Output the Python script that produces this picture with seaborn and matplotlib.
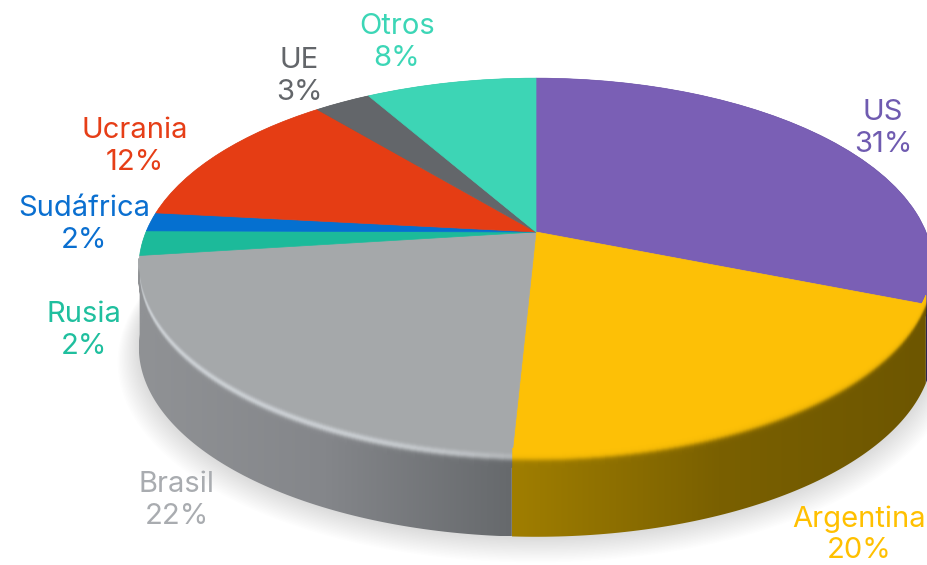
import numpy as np
import matplotlib
matplotlib.use('Agg')
import matplotlib.pyplot as plt
from matplotlib.collections import PolyCollection
from matplotlib.patches import Polygon
from matplotlib.transforms import Transform
import seaborn as sns

# datos
paises = ['US', 'Argentina', 'Brasil', 'Rusia', 'Sudáfrica', 'Ucrania', 'UE', 'Otros']
porcentajes = [31, 20, 22, 2, 2, 12, 3, 8]
valores = [31.0, 19.8, 22.2, 2.1, 1.6, 12.2, 2.77, 8.33]
colores = ['#7A5FB5', '#FDC006', '#A5A8AA', '#1CBA9A', '#0570D0', '#E53D14', '#63666A', '#3DD5B5']
colores_texto = ['#6F5BB0', '#FFC000', '#A9ACB0', '#1FBF9E', '#0A6FD0', '#E63E17', '#63666A', '#3CD6B6']
# color del lateral, de izquierda a derecha en pantalla
lateral = [['#4A3A78', '#2E2450'], ['#A07E00', '#7A6000', '#6D5600'],
           ['#909295', '#84868A', '#66696C'], ['#909295', '#909295'],
           ['#909295', '#909295'], ['#909295', '#909295'],
           ['#45474A', '#45474A'], ['#2A9580', '#2A9580']]
pos_etiquetas = [(883, 126), (859, 532), (177, 498), (84, 327),
                 (84, 221), (135, 143), (299, 73), (397, 39)]

# perspectiva del disco: circulo unidad -> pixeles
CX, CY = 536, 232
A, B, K = 390, 183, 0.1895
FONDO = 79


def proyecta(u, v):
    d = 1 + K * v
    return CX + A * u / d, CY - B * v / d


class Perspectiva(Transform):
    input_dims = 2
    output_dims = 2
    is_separable = False

    def transform_non_affine(self, xy):
        x, y = proyecta(xy[:, 0], xy[:, 1])
        return np.column_stack([x, y])


sns.set_theme(style='white')
plt.rcParams['font.family'] = ['Inter', 'DejaVu Sans']

fig, ax = plt.subplots(figsize=(9.27, 5.65), dpi=100)
fig.subplots_adjust(0, 0, 1, 1)

cuñas, _ = ax.pie(valores, colors=colores, startangle=90, counterclock=False,
                  wedgeprops={'linewidth': 0.5})

# sombra difusa
th = np.linspace(0, 2 * np.pi, 300)
for i in range(18):
    r = 1.0 + i * 0.003
    x, y = proyecta(r * np.cos(th), r * np.sin(th))
    ax.fill(x, y + FONDO + 1 + i * 0.6, color='#808080', alpha=0.014, lw=0, zorder=1)

# lateral y bisel
for num, (cuña, col_lat, color) in enumerate(zip(cuñas, lateral, colores)):
    ang = np.radians(np.linspace(cuña.theta1, cuña.theta2, 90))
    x, y = proyecta(np.cos(ang), np.sin(ang))
    n = len(ang) - 1
    pal = sns.blend_palette(col_lat, 256)
    xmin, xmax = x.min(), x.max()

    # lateral: degradado recortado con la forma de la pared
    pared = np.column_stack([np.r_[x, x[::-1]], np.r_[y, y[::-1] + FONDO]])
    img = ax.imshow(np.array(pal)[None, :, :], extent=(xmin, xmax, y.max() + FONDO, y.min()),
                    aspect='auto', zorder=2, interpolation='bilinear')
    img.set_clip_path(Polygon(pared, transform=ax.transData))

    cuña.set_transform(Perspectiva() + ax.transData)
    cuña.set_zorder(3)
    cuña.set_edgecolor(color)

    # bisel: de la cara al lateral, con brillo en la porcion gris
    base = np.array(matplotlib.colors.to_rgb(color))
    for d0 in np.arange(-9, 10):
        dm = d0 + 0.5
        mezcla = 1 / (1 + np.exp(-(dm - 2.5) / 1.4))
        brillo = np.exp(-((dm + 0.5) / 3.2) ** 2) * 0.65 if num == 2 else 0
        quads, fc = [], []
        for j in range(0, n, 2):
            k = min(j + 2, n)
            frente = np.clip((y[j] - 262) / 40, 0, 1)
            if frente <= 0:
                continue
            f = ((x[j] + x[k]) / 2 - xmin) / max(xmax - xmin, 1)
            lat = np.array(pal[int(f * 255)])
            c = base + (lat - base) * mezcla
            # el brillo se apaga hacia el centro del disco
            fuerza = brillo * frente * (1 - 0.6 * f ** 4)
            c = c + (np.array([0.88, 0.90, 0.92]) - c) * fuerza
            quads.append([(x[j], y[j] + d0), (x[k], y[k] + d0),
                          (x[k], y[k] + d0 + 1), (x[j], y[j] + d0 + 1)])
            fc.append(c)
        if quads:
            ax.add_collection(PolyCollection(quads, facecolors=fc, edgecolors=fc, lw=0.5, zorder=4))

ax.set_aspect('auto')
ax.set_xlim(0, 927)
ax.set_ylim(565, 0)
ax.axis('off')

# etiquetas: nombre y porcentaje en dos textos
for pais, pct, c, (xt, yt) in zip(paises, porcentajes, colores_texto, pos_etiquetas):
    ax.text(xt, yt - 16, pais, color=c, fontsize=21, ha='center', va='center_baseline', zorder=6)
    ax.text(xt, yt + 16, f'{pct}%', color=c, fontsize=21, ha='center', va='center_baseline', zorder=6)

fig.savefig('out.png', dpi=100)
